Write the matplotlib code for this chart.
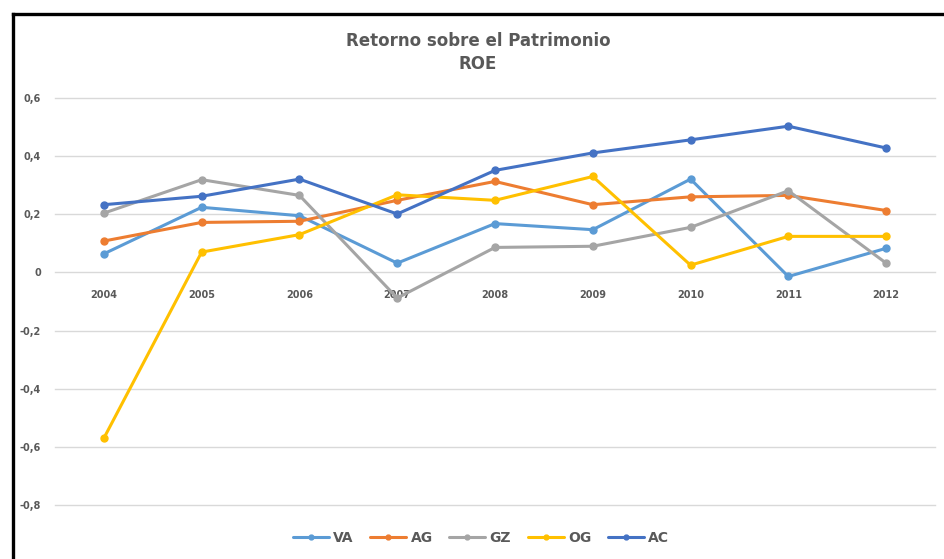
import matplotlib
matplotlib.use("Agg")
import matplotlib.pyplot as plt
from matplotlib.lines import Line2D

years = ["2004", "2005", "2006", "2007", "2008", "2009", "2010", "2011", "2012"]
VA = [0.064, 0.224, 0.195, 0.032, 0.168, 0.147, 0.321, -0.014, 0.083]
AG = [0.108, 0.172, 0.176, 0.248, 0.313, 0.233, 0.260, 0.265, 0.213]
GZ = [0.204, 0.319, 0.265, -0.088, 0.086, 0.090, 0.155, 0.281, 0.032]
OG = [-0.570, 0.070, 0.130, 0.267, 0.248, 0.330, 0.025, 0.124, 0.124]
AC = [0.233, 0.262, 0.321, 0.201, 0.351, 0.411, 0.456, 0.503, 0.428]
series = [("VA", VA, "#5B9BD5"), ("AG", AG, "#ED7D31"), ("GZ", GZ, "#A5A5A5"),
          ("OG", OG, "#FFC000"), ("AC", AC, "#4472C4")]
yticks = [0.6, 0.4, 0.2, 0, -0.2, -0.4, -0.6, -0.8]
ytick_labels = ["0,6", "0,4", "0,2", "0", "-0,2", "-0,4", "-0,6", "-0,8"]

W, H = 945, 559
fig = plt.figure(figsize=(W / 100, H / 100), dpi=100)
fig.patch.set_facecolor("white")
ax = fig.add_axes([55 / W, 1 - 505 / H, (935 - 55) / W, (505 - 98) / H])

x = list(range(len(years)))
for name, vals, col in series:
    ax.plot(x, vals, color=col, lw=2.2, marker="o", ms=5, label=name, solid_capstyle="round")

ax.set_xlim(-0.5, len(years) - 0.5)
ax.set_ylim(-0.8, 0.6)
ax.set_yticks(yticks)
ax.set_yticklabels(ytick_labels)
ax.set_xticks(x)
ax.set_xticklabels(years)
ax.grid(axis="y", color="#D9D9D9", lw=1)
ax.set_axisbelow(True)
for gl in ax.get_ygridlines():
    gl.set_clip_on(False)
for s in ["top", "right", "left"]:
    ax.spines[s].set_visible(False)
ax.spines["bottom"].set_position(("data", 0))
ax.spines["bottom"].set_visible(False)
ax.tick_params(axis="both", length=0, labelsize=7, labelcolor="#595959")
ax.tick_params(axis="x", pad=13)
ax.tick_params(axis="y", pad=10)
for lab in ax.get_xticklabels() + ax.get_yticklabels():
    lab.set_fontweight("bold")

fig.text(478 / W, 1 - 41 / H, "Retorno sobre el Patrimonio", ha="center", va="center",
         fontsize=12, fontweight="bold", color="#595959")
fig.text(478 / W, 1 - 64 / H, "ROE", ha="center", va="center",
         fontsize=12, fontweight="bold", color="#595959")

leg = fig.legend(loc="center", bbox_to_anchor=(481 / W, 1 - 538 / H), ncol=5, frameon=False,
                 prop={"size": 10, "weight": "bold"}, handlelength=2.6, columnspacing=1.2,
                 handletextpad=0.3, markerscale=0.7)
for t in leg.get_texts():
    t.set_color("#595959")

fig.add_artist(Line2D([13.5 / W, 13.5 / W], [0, 1 - 13.5 / H], color="black", lw=2.4,
                      transform=fig.transFigure, solid_capstyle="projecting"))
fig.add_artist(Line2D([13.5 / W, 1], [1 - 13.5 / H, 1 - 13.5 / H], color="black", lw=2.4,
                      transform=fig.transFigure, solid_capstyle="projecting"))

fig.savefig("out.png", dpi=100, facecolor="white")
